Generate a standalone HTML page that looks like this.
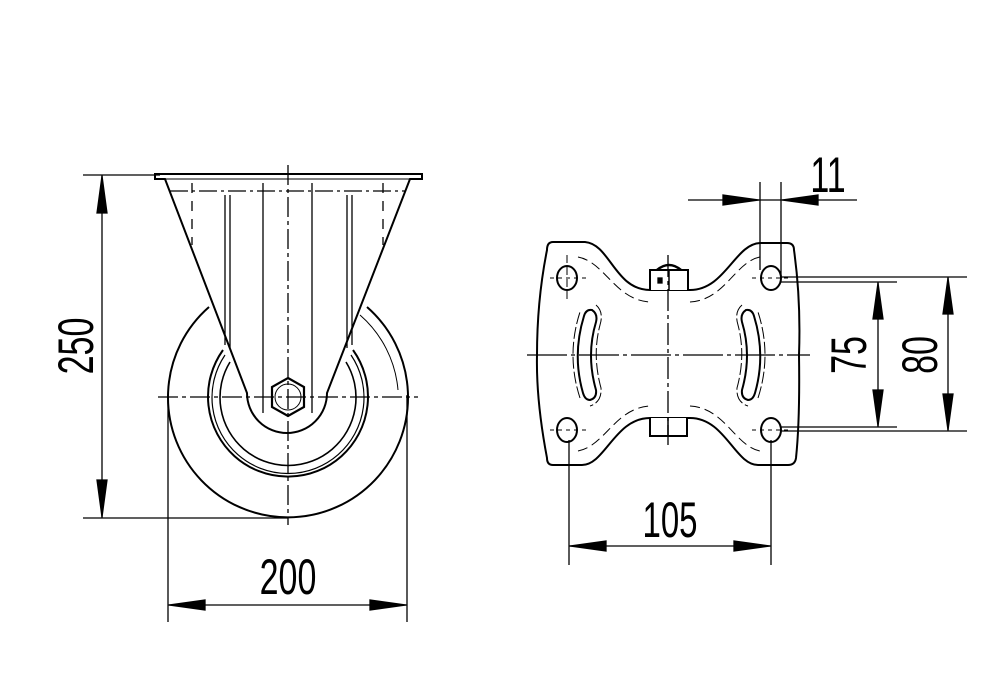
<!DOCTYPE html>
<html><head><meta charset="utf-8"><style>
html,body{margin:0;padding:0;background:#fff}
svg{display:block}
text{font-family:"Liberation Sans",sans-serif;fill:#000}
</style></head><body>
<svg width="1000" height="700" viewBox="0 0 1000 700" xmlns="http://www.w3.org/2000/svg" fill="none" stroke="#000" stroke-width="1.3">
<!-- ===== LEFT VIEW ===== -->
<path d="M209,307 A120,120 0 1 0 367,307" stroke-width="2"/>
<path d="M360,315 A112,112 0 0 1 398,390" stroke-width="1"/>
<path d="M223,350 A80,80 0 1 0 353,350" stroke-width="2"/>
<path d="M225,355 A76,76 0 1 0 351,355" stroke-width="1.2"/>
<path d="M230,362 A68,68 0 1 0 346,362" stroke-width="1.6"/>
<!-- fork -->
<path d="M155,174 H422 V179 H410 L327,393 A40,40 0 0 1 247,393 L165,179 H155 Z" fill="#fff" stroke-width="2"/>
<line x1="160" y1="179" x2="415" y2="179" stroke-width="1"/>
<line x1="170" y1="191" x2="405" y2="191" stroke-dasharray="18,4,3,4" stroke-width="1.2"/>
<line x1="192" y1="183" x2="192" y2="245" stroke-dasharray="10,8"/>
<line x1="383" y1="183" x2="383" y2="245" stroke-dasharray="10,8"/>
<line x1="225" y1="195" x2="225" y2="345"/><line x1="230" y1="195" x2="230" y2="348"/>
<line x1="347" y1="195" x2="347" y2="348"/><line x1="352" y1="195" x2="352" y2="345"/>
<line x1="263" y1="183" x2="263" y2="413"/><line x1="312" y1="183" x2="312" y2="413"/>
<polygon points="288,378 304,387 304,407 288,416 272,407 272,387" stroke-width="2.2" fill="#fff"/>
<circle cx="288" cy="397" r="13" stroke-width="1"/>
<line x1="288" y1="165" x2="288" y2="525" stroke-dasharray="20,4,4,4"/>
<line x1="158" y1="397" x2="418" y2="397" stroke-dasharray="20,4,4,4"/>
<!-- dim 250 -->
<line x1="83" y1="175" x2="160" y2="175"/>
<line x1="83" y1="518" x2="288" y2="518"/>
<line x1="102" y1="175" x2="102" y2="518"/>
<polygon points="102,176 97,213 107,213" fill="#000"/>
<polygon points="102,517 97,480 107,480" fill="#000"/>
<text x="0" y="0" transform="translate(93,346) rotate(-90) scale(0.68,1)" text-anchor="middle" font-size="50" stroke="none">250</text>
<!-- dim 200 -->
<line x1="168" y1="400" x2="168" y2="622"/>
<line x1="407" y1="395" x2="407" y2="622"/>
<line x1="168" y1="605" x2="407" y2="605"/>
<polygon points="169,605 205,600 205,610" fill="#000"/>
<polygon points="406,605 370,600 370,610" fill="#000"/>
<text x="0" y="0" transform="translate(288,594) scale(0.68,1)" text-anchor="middle" font-size="50" stroke="none">200</text>

<!-- ===== RIGHT VIEW ===== -->
<path d="M553,242 H585 C610,244 615,290 650,290 H690 C725,290 735,244 760,243 H787 Q794,243 794,250 Q801,300 799,355 Q800,420 796,458 Q795,465 788,465 H758 C735,465 725,418 690,418 H650 C615,418 605,465 582,465 H553 Q547,465 547,458 Q536,400 537,355 Q537,300 547,250 Q547,242 553,242 Z" stroke-width="2"/>
<path d="M578,257 C605,262 615,300 650,302 M690,302 C725,300 735,262 760,257" stroke-dasharray="10,5" stroke-width="1"/>
<path d="M578,451 C605,446 615,408 650,406 M690,406 C725,408 735,446 760,451" stroke-dasharray="10,5" stroke-width="1"/>
<ellipse cx="567" cy="278" rx="10" ry="12" stroke-width="2"/>
<ellipse cx="771" cy="278" rx="10" ry="12" stroke-width="2"/>
<ellipse cx="567" cy="430" rx="10" ry="12" stroke-width="2"/>
<ellipse cx="771" cy="430" rx="10" ry="12" stroke-width="2"/>
<g stroke-width="1">
<line x1="567" y1="255" x2="567" y2="300" stroke-dasharray="8,4"/>
<line x1="550" y1="278" x2="586" y2="278" stroke-dasharray="4,4"/>
<line x1="550" y1="430" x2="586" y2="430" stroke-dasharray="4,4"/>
<line x1="752" y1="430" x2="790" y2="430" stroke-dasharray="4,4"/>
<line x1="752" y1="278" x2="790" y2="278" stroke-dasharray="4,4"/>
</g>
<path d="M592,310 Q598,314 596,322 Q586,355 596,390 Q597,398 590,400 Q585,400 583,393 Q572,355 584,316 Q586,309 592,310 Z" stroke-width="2"/>
<path d="M746,310 Q740,314 742,322 Q752,355 742,390 Q741,398 748,400 Q753,400 755,393 Q766,355 754,316 Q752,309 746,310 Z" stroke-width="2"/>
<path d="M596,305 Q604,312 600,325 Q592,355 601,388 Q602,402 590,406 M580,398 Q566,355 580,312" stroke-width="1" stroke-dasharray="12,3"/>
<path d="M742,305 Q734,312 738,325 Q746,355 737,388 Q736,402 748,406 M758,398 Q772,355 758,312" stroke-width="1" stroke-dasharray="12,3"/>
<path d="M650,290 V270 H688 V290" stroke-width="2" fill="#fff"/>
<path d="M657,270 Q669,260 681,270" stroke-width="2.5"/>
<line x1="669" y1="270" x2="669" y2="290" stroke-width="1.5"/>
<rect x="658" y="278" width="4" height="5" fill="#000"/>
<path d="M650,418 V436 H687 V418" stroke-width="2" fill="#fff"/>
<line x1="668" y1="418" x2="668" y2="436" stroke-width="1.5"/>
<line x1="668" y1="255" x2="668" y2="445" stroke-dasharray="22,4,4,4"/>
<line x1="527" y1="355" x2="810" y2="355" stroke-dasharray="40,4,4,4"/>
<!-- dim 11 -->
<line x1="760" y1="182" x2="760" y2="270"/>
<line x1="781" y1="182" x2="781" y2="278"/>
<line x1="688" y1="200" x2="857" y2="200"/>
<polygon points="759,200 723,195 723,205" fill="#000"/>
<polygon points="782,200 818,195 818,205" fill="#000"/>
<text x="0" y="0" transform="translate(828,192) scale(0.68,1)" text-anchor="middle" font-size="50" stroke="none">11</text>
<!-- dim 75 / 80 -->
<line x1="781" y1="277" x2="967" y2="277"/>
<line x1="781" y1="282" x2="897" y2="282"/>
<line x1="781" y1="427" x2="897" y2="427"/>
<line x1="781" y1="431" x2="967" y2="431"/>
<line x1="878" y1="282" x2="878" y2="427"/>
<polygon points="878,283 873,319 883,319" fill="#000"/>
<polygon points="878,426 873,390 883,390" fill="#000"/>
<line x1="948" y1="277" x2="948" y2="431"/>
<polygon points="948,278 943,314 953,314" fill="#000"/>
<polygon points="948,430 943,394 953,394" fill="#000"/>
<text x="0" y="0" transform="translate(866,355) rotate(-90) scale(0.68,1)" text-anchor="middle" font-size="50" stroke="none">75</text>
<text x="0" y="0" transform="translate(937,355) rotate(-90) scale(0.68,1)" text-anchor="middle" font-size="50" stroke="none">80</text>
<!-- dim 105 -->
<line x1="569" y1="440" x2="569" y2="565"/>
<line x1="771" y1="440" x2="771" y2="565"/>
<line x1="569" y1="546" x2="771" y2="546"/>
<polygon points="570,546 606,541 606,551" fill="#000"/>
<polygon points="770,546 734,541 734,551" fill="#000"/>
<text x="0" y="0" transform="translate(670,537) scale(0.66,1)" text-anchor="middle" font-size="50" stroke="none">105</text>
</svg>
</body></html>
